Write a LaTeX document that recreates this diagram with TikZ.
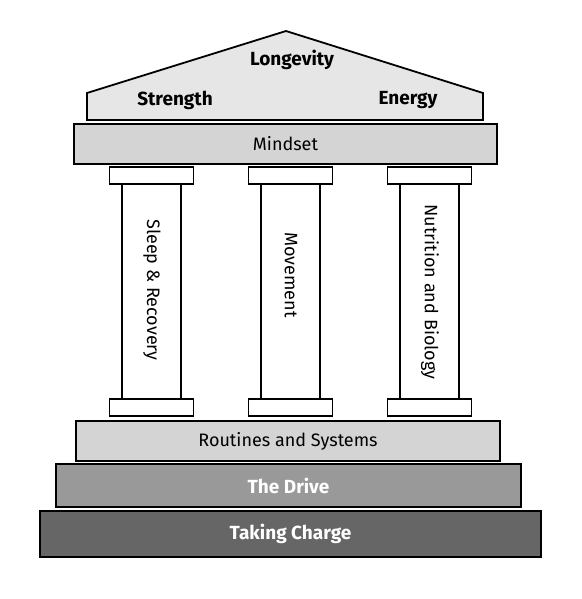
\documentclass[tikz,border=0pt]{standalone}
\usepackage{fontspec}
\setmainfont{Fira Sans}
\usepackage{xcolor}
\usetikzlibrary{positioning}

\definecolor{roofgray}{HTML}{E6E6E6}
\definecolor{bargray}{HTML}{D4D4D4}
\definecolor{drivegray}{HTML}{999999}
\definecolor{chargegray}{HTML}{666666}

\begin{document}
\begin{tikzpicture}[x=1pt, y=-1pt, line width=1.8pt]
        % Define block styles
        \tikzstyle{bar} = [rectangle, draw, fill=bargray, inner sep=0pt, outer sep=0pt, minimum height=40pt, font=\fontsize{18}{20}\selectfont]
        \tikzstyle{capital} = [rectangle, draw, fill=white, inner sep=0pt, outer sep=0pt, minimum width=84pt, minimum height=17pt]
        \tikzstyle{shaft} = [rectangle, draw, fill=white, inner sep=0pt, outer sep=0pt, minimum width=59pt, minimum height=215pt]
        \tikzstyle{pillartext} = [rotate=-90, font=\fontsize{18}{20}\selectfont]
        \tikzstyle{rooftext} = [font=\bfseries\fontsize{19}{21}\selectfont]

        \useasboundingbox (0,0) rectangle (581,599);

        % Roof
        \draw[fill=roofgray] (87,120) -- (87,93) -- (286,31) -- (483,93) -- (483,120) -- cycle;
        \node (longevity) [rooftext] at (292,60) {Longevity};
        \node (strength) [rooftext] at (175,100) {Strength};
        \node (energy) [rooftext] at (408,100) {Energy};

        % Mindset beam
        \node (mindset) [bar, minimum width=423pt] at (285.5,144) {Mindset};

        % Pillars
        \node (sleepshaft) [shaft] at (151.5,291.5) {};
        \node (moveshaft) [shaft] at (290.5,291.5) {};
        \node (nutrishaft) [shaft] at (429.5,291.5) {};
        \node (sleeptop) [capital, above=0pt of sleepshaft] {};
        \node (movetop) [capital, above=0pt of moveshaft] {};
        \node (nutritop) [capital, above=0pt of nutrishaft] {};
        \node (sleepbase) [capital, below=0pt of sleepshaft] {};
        \node (movebase) [capital, below=0pt of moveshaft] {};
        \node (nutribase) [capital, below=0pt of nutrishaft] {};
        \node (sleep) [pillartext] at (152,290) {Sleep \& Recovery};
        \node (movement) [pillartext] at (291,275) {Movement};
        \node (nutrition) [pillartext] at (430,292) {Nutrition and Biology};

        % Foundation steps
        \node (routines) [bar, minimum width=424pt] at (288,441) {Routines and Systems};
        \node (drive) [bar, fill=drivegray, text=white, minimum width=465pt, minimum height=43pt, font=\bfseries\fontsize{19}{21}\selectfont] at (288.5,485.5) {The Drive};
        \node (charge) [bar, fill=chargegray, text=white, minimum width=501pt, minimum height=46pt, font=\bfseries\fontsize{19}{21}\selectfont] at (290.5,534) {Taking Charge};
    \end{tikzpicture}
\end{document}
